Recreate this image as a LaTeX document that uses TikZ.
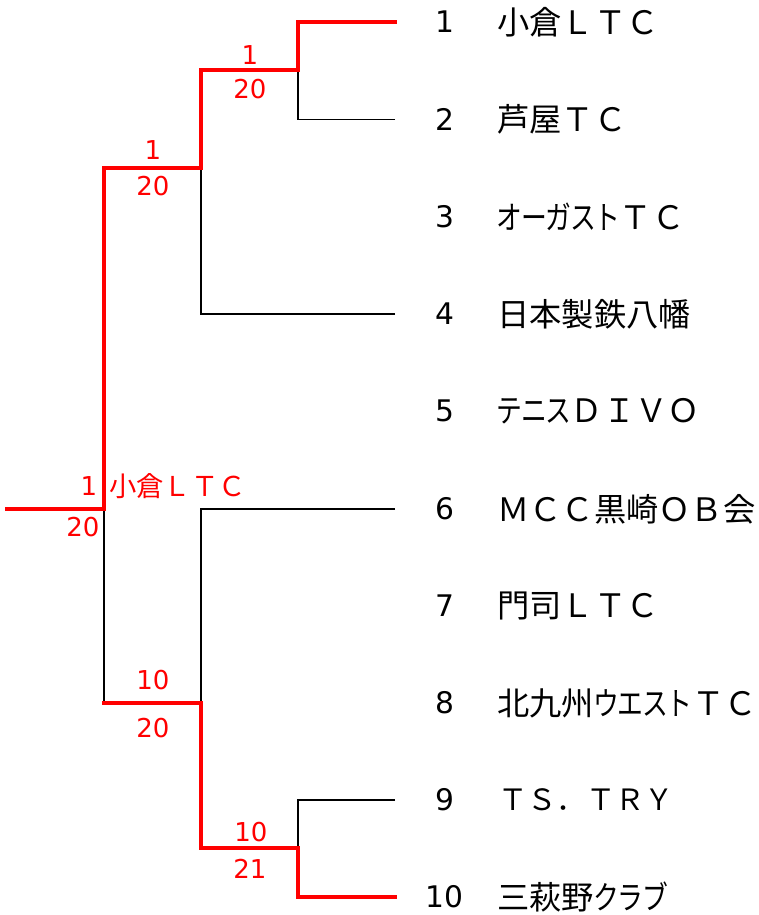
\documentclass[tikz,border=0pt]{standalone}
\usepackage{fontspec}
\usepackage{graphicx}
\newfontfamily\jpfont{Noto Sans CJK JP}
\newfontfamily\numfont{DejaVu Sans}
\newcommand\kk[1]{\makebox[0.76em][c]{\scalebox{0.8}[1]{#1}}}
\begin{document}
\begin{tikzpicture}[x=0.75pt,y=-0.75pt,
  loser/.style={draw=black,line width=1.3pt},
  winner/.style={draw=red,line width=3pt,line join=miter,line cap=rect},
  teamnum/.style={inner sep=0pt,anchor=center,font=\numfont\fontsize{22.3pt}{24pt}\selectfont},
  teamname/.style={inner sep=0pt,anchor=west,font=\jpfont\fontsize{24.2pt}{26pt}\selectfont},
  score/.style={inner sep=0pt,anchor=center,text=red,font=\numfont\fontsize{19.5pt}{21pt}\selectfont},
  winname/.style={inner sep=0pt,anchor=west,text=red,font=\jpfont\fontsize{20.5pt}{22pt}\selectfont}]
\useasboundingbox (0,0) rectangle (759,915);
% rows
\foreach \i/\y in {1/22,2/119.5,3/217,4/314,5/411,6/509,7/606,8/703,9/800,10/897}{
  \node[teamnum] (n\i) at (444.5,\y) {\i};
  \coordinate (e\i) at (395,\y);
}
\node[teamname] (t1) at (497,22) {小倉ＬＴＣ};
\node[teamname] (t2) at (497,119.5) {芦屋ＴＣ};
\node[teamname] (t3) at (497,217) {\kk{オ}\kk{ー}\kk{ガ}\kk{ス}\kk{ト}ＴＣ};
\node[teamname] (t4) at (497,314) {日本製鉄八幡};
\node[teamname] (t5) at (497,411) {\kk{テ}\kk{ニ}\kk{ス}ＤＩＶＯ};
\node[teamname] (t6) at (497,509) {ＭＣＣ黒崎ＯＢ会};
\node[teamname] (t7) at (497,606) {門司ＬＴＣ};
\node[teamname] (t8) at (497,703) {北九州\kk{ウ}\kk{エ}\kk{ス}\kk{ト}ＴＣ};
\node[teamname,font=\jpfont\fontsize{22pt}{24pt}\selectfont] (t9) at (498,800) {ＴＳ．ＴＲＹ};
\node[teamname] (t10) at (497,897) {三萩野\kk{ク}\kk{ラ}\kk{ブ}};
% bracket points
\coordinate (a1) at (298,22);
\coordinate (a2) at (298,119.5);
\coordinate (am) at (298,70);
\coordinate (b1) at (201,70);
\coordinate (b4) at (201,314);
\coordinate (bm) at (201,168);
\coordinate (f1) at (104,168);
\coordinate (fm) at (104,509);
\coordinate (f2) at (104,703);
\coordinate (root) at (7,509);
\coordinate (c6) at (201,509);
\coordinate (c1) at (201,703);
\coordinate (c2) at (201,848);
\coordinate (d9) at (298,800);
\coordinate (dm) at (298,848);
\coordinate (d10) at (298,897);
% losing lines
\draw[loser] (e2) -- (a2) -- (am);
\draw[loser] (e4) -- (b4) -- (bm);
\draw[loser] (e6) -- (c6) -- (c1);
\draw[loser] (e9) -- (d9) -- (dm);
\draw[loser] (fm) -- (f2);
% winning lines
\draw[winner] (e1) -- (a1) -- (am) -- (b1) -- (bm) -- (f1) -- (fm) -- (root);
\draw[winner] (e10) -- (d10) -- (dm) -- (c2) -- (c1) -- (f2);
% scores
\node[score] (sa1) at (250,55) {1};
\node[score] (sa2) at (250,89.5) {20};
\node[score] (sb1) at (153,150) {1};
\node[score] (sb2) at (153,186.5) {20};
\node[score] (sf1) at (89,486) {1};
\node[winname] (champ) at (109,486) {小倉ＬＴＣ};
\node[score] (sf2) at (83,527) {20};
\node[score] (sc1) at (153,680) {10};
\node[score] (sc2) at (153,728) {20};
\node[score] (sd1) at (251,832) {10};
\node[score] (sd2) at (250,869) {21};
\end{tikzpicture}
\end{document}
